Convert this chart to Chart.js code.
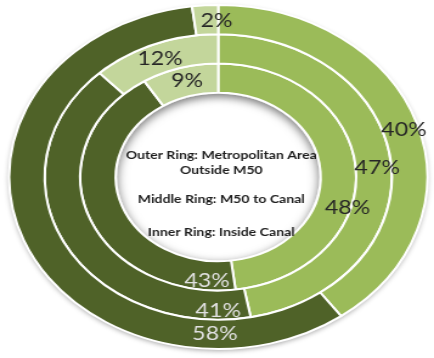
<!DOCTYPE html>
<html>
<head>
<meta charset="utf-8">
<script src="https://cdn.jsdelivr.net/npm/chart.js@4.4.1/dist/chart.umd.min.js"></script>
<style>
  html, body { margin: 0; padding: 0; background: #fff; }
  #ring-chart { display: block; }
</style>
</head>
<body>
<!-- the ring chart is drawn round and then widened to the page -->
<canvas id="ring-chart" width="357" height="358" style="width:434px;height:358px"></canvas>
<script>
const categories = ['Group A', 'Group B', 'Group C'];
const outerRing = [40, 58, 2];   // Metropolitan Area Outside M50
const middleRing = [47, 41, 12]; // M50 to Canal
const innerRing = [48, 43, 9];   // Inside Canal
const centerLines = [
  'Outer Ring: Metropolitan Area',
  'Outside M50',
  'Middle Ring: M50 to Canal',
  'Inner Ring: Inside Canal'
];

const sliceColors = ['#9bbb59', '#4f6228', '#c3d69b'];
const labelInk = ['#262626', '#e0e0e0', '#262626'];
const centerLineY = [155.5, 170, 199, 232];
// label anchor per slice: [degrees clockwise from top, position across the ring]
const labelSpots = [
  [[73, 0.58], [181, 0.5], [359.5, 0.46]],
  [[86, 0.6], [180, 0.7], [338, 0.48]],
  [[106, 0.9], [185, 0.68], [345, 0.52]]
];

const ringDecor = {
  id: 'ringDecor',
  beforeDatasetsDraw(chart) {
    const outer = chart.getDatasetMeta(0).data[0];
    const ctx = chart.ctx;
    ctx.save();
    ctx.beginPath();
    ctx.arc(outer.x, outer.y, outer.outerRadius, 0, Math.PI * 2);
    ctx.fillStyle = '#fff';
    ctx.shadowColor = 'rgba(0,0,0,0.35)';
    ctx.shadowBlur = 5;
    ctx.shadowOffsetY = 2;
    ctx.fill();
    ctx.restore();
  },
  afterDatasetsDraw(chart) {
    const ctx = chart.ctx;
    const hole = chart.getDatasetMeta(2).data[0];
    const r = hole.innerRadius - 1;

    // inner shadow round the hole
    ctx.save();
    ctx.beginPath();
    ctx.arc(hole.x, hole.y, r, 0, Math.PI * 2);
    ctx.clip();
    ctx.beginPath();
    ctx.arc(hole.x, hole.y, r + 15, 0, Math.PI * 2);
    ctx.lineWidth = 30;
    ctx.strokeStyle = '#fff';
    ctx.shadowColor = 'rgba(0,0,0,0.55)';
    ctx.shadowBlur = 8;
    ctx.shadowOffsetY = 3;
    ctx.stroke();
    ctx.restore();

    // percentage labels
    ctx.save();
    ctx.font = '19px Lato';
    ctx.textAlign = 'center';
    ctx.textBaseline = 'middle';
    chart.data.datasets.forEach((ds, i) => {
      chart.getDatasetMeta(i).data.forEach((arc, j) => {
        const [deg, frac] = labelSpots[i][j];
        const a = (deg - 90) * Math.PI / 180;
        const rr = arc.innerRadius + (arc.outerRadius - arc.innerRadius) * frac;
        ctx.fillStyle = labelInk[j];
        ctx.fillText(ds.data[j] + '%', arc.x + rr * Math.cos(a), arc.y + rr * Math.sin(a));
      });
    });

    // ring key in the middle
    ctx.font = 'bold 11.6px Lato';
    ctx.fillStyle = '#1e1e1e';
    centerLines.forEach((line, k) => {
      ctx.fillText(line, hole.x + 2.5, centerLineY[k]);
    });
    ctx.restore();
  }
};

new Chart(document.getElementById('ring-chart'), {
  type: 'doughnut',
  data: {
    labels: categories,
    datasets: [outerRing, middleRing, innerRing].map(values => ({
      data: values,
      backgroundColor: sliceColors,
      borderColor: '#ffffff',
      borderWidth: 2,
      clip: false
    }))
  },
  options: {
    responsive: false,
    animation: false,
    events: [],
    cutout: '49%',
    layout: { padding: { top: 4, bottom: 8, left: 4, right: 2 } },
    plugins: {
      legend: { display: false },
      tooltip: { enabled: false }
    }
  },
  plugins: [ringDecor]
});
</script>
</body>
</html>
